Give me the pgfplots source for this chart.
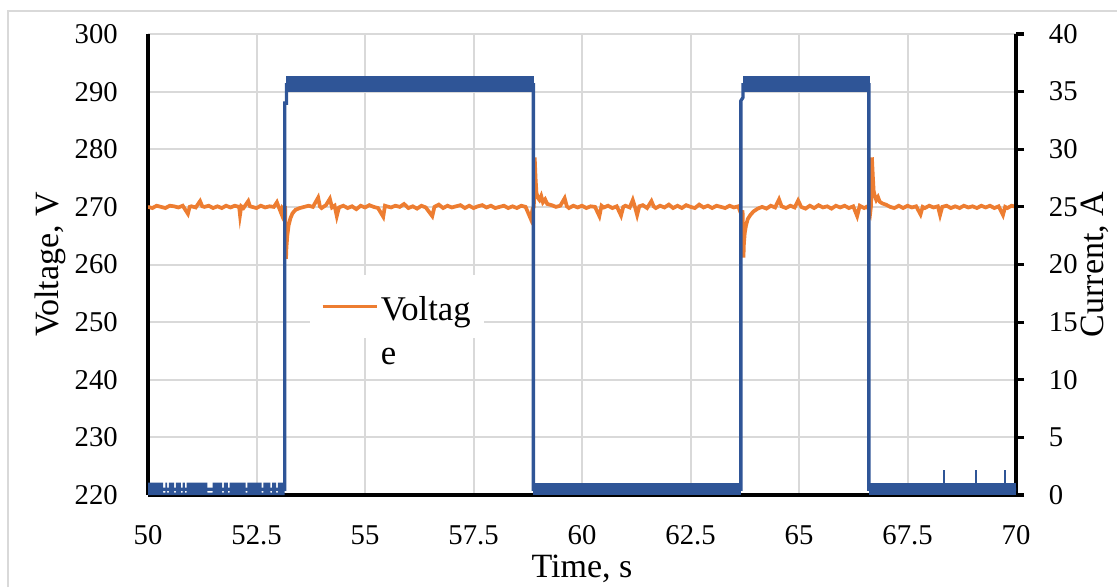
\documentclass[border=0pt]{standalone}
\usepackage{fontspec}
\setmainfont{Liberation Serif}
\usepackage{pgfplots}
\pgfplotsset{compat=1.18}
\definecolor{vorange}{HTML}{ED7D31}
\definecolor{cblue}{HTML}{2F5597}
\definecolor{gridgray}{HTML}{D9D9D9}

\pgfplotstableread{
t V
50.00 270.0
50.10 269.8
50.20 270.2
50.30 270.0
50.40 269.8
50.50 270.2
50.60 270.1
50.70 269.9
50.80 270.2
50.92 268.8
50.96 270.0
51.00 270.1
51.10 269.9
51.20 271.0
51.25 270.1
51.30 270.0
51.40 270.2
51.50 269.8
51.60 270.1
51.70 269.8
51.80 270.2
51.90 269.9
52.00 270.2
52.10 270.0
52.12 268.6
52.15 270.1
52.20 269.8
52.31 271.0
52.35 270.1
52.40 270.0
52.50 269.8
52.60 270.2
52.70 269.9
52.80 270.1
52.90 270.0
52.97 270.8
53.00 270.2
53.08 268.7
53.10 269.8
53.14 269.5
53.16 269.6
53.18 261.0
53.19 263.0
53.21 265.0
53.24 266.8
53.28 268.0
53.33 268.9
53.40 269.5
53.50 269.8
53.60 270.0
53.70 270.2
53.80 270.0
53.92 271.6
53.96 270.1
54.00 269.8
54.10 270.3
54.19 271.4
54.24 269.9
54.30 270.2
54.35 268.4
54.40 269.9
54.50 270.2
54.60 269.8
54.70 270.1
54.80 269.6
54.90 270.2
55.00 269.9
55.10 270.3
55.20 270.0
55.30 269.8
55.42 268.3
55.46 270.2
55.50 270.1
55.60 269.9
55.70 270.2
55.80 270.0
55.90 270.5
56.00 269.8
56.10 270.1
56.20 269.7
56.30 270.2
56.40 269.9
56.55 268.4
56.60 270.0
56.70 270.4
56.80 269.8
56.90 270.2
57.00 269.9
57.10 270.1
57.20 270.3
57.30 269.8
57.40 270.2
57.50 269.8
57.60 270.1
57.70 270.3
57.80 269.9
57.90 270.2
58.00 269.8
58.10 270.0
58.20 270.2
58.30 269.8
58.40 270.1
58.50 269.8
58.60 270.2
58.70 270.0
58.82 267.9
58.86 269.6
58.89 270.0
58.91 278.6
58.93 275.0
58.95 272.5
58.98 271.6
59.02 271.2
59.06 271.9
59.10 270.8
59.15 271.3
59.20 270.5
59.30 270.3
59.40 270.0
59.50 270.2
59.60 271.5
59.65 270.1
59.70 269.8
59.80 270.2
59.90 269.9
60.00 270.2
60.10 269.8
60.20 270.1
60.30 270.0
60.40 268.4
60.45 270.2
60.50 269.9
60.60 270.2
60.70 269.8
60.80 270.1
60.90 268.5
60.95 270.0
61.00 270.2
61.10 269.9
61.17 271.2
61.22 270.0
61.27 268.6
61.32 270.1
61.40 270.3
61.50 269.8
61.60 271.0
61.65 270.1
61.70 269.8
61.80 270.2
61.90 269.9
62.00 270.4
62.10 269.8
62.20 270.2
62.30 269.8
62.40 270.3
62.50 270.0
62.60 269.8
62.70 270.4
62.80 269.9
62.90 270.2
63.00 269.8
63.10 270.2
63.20 270.0
63.30 269.8
63.40 270.2
63.50 269.9
63.60 270.1
63.68 268.5
63.70 269.4
63.72 261.2
63.73 263.5
63.75 265.5
63.78 266.8
63.82 267.9
63.88 268.6
63.95 269.2
64.05 269.7
64.15 270.0
64.25 269.7
64.35 270.2
64.45 269.9
64.54 271.3
64.60 270.1
64.70 269.8
64.80 270.2
64.90 269.9
64.98 271.1
65.05 270.0
65.15 269.7
65.25 270.2
65.35 269.8
65.45 270.3
65.55 269.9
65.65 270.1
65.75 269.7
65.85 270.2
65.95 269.9
66.05 270.2
66.15 269.8
66.25 270.1
66.34 268.4
66.40 270.2
66.50 269.8
66.58 270.1
66.64 268.9
66.66 270.2
66.68 278.6
66.70 275.5
66.72 272.8
66.75 271.8
66.78 271.2
66.82 271.7
66.86 270.9
66.92 270.6
67.00 270.4
67.10 270.0
67.20 269.8
67.30 270.2
67.40 269.8
67.50 270.2
67.60 269.9
67.70 270.1
67.80 268.7
67.85 270.0
67.90 269.8
68.00 270.2
68.10 269.9
68.20 270.1
68.25 268.6
68.30 270.0
68.40 270.2
68.50 269.8
68.60 270.1
68.70 269.8
68.80 270.2
68.90 269.9
69.00 270.1
69.10 269.8
69.20 270.2
69.30 269.9
69.40 270.2
69.50 269.8
69.60 270.1
69.70 268.6
69.75 270.0
69.80 269.8
69.90 270.2
70.00 270.0
}\voltage

\begin{document}
\begin{tikzpicture}
\useasboundingbox (0pt,0pt) rectangle (837.75pt,440.25pt);
\draw[gridgray, line width=1.5pt] (6pt,0pt) -- (6pt,432pt) -- (837.75pt,432pt);

% voltage, left axis
\begin{axis}[
  at={(111pt,69pt)}, anchor=south west,
  scale only axis, width=651pt, height=345.75pt,
  xmin=50, xmax=70, ymin=220, ymax=300,
  xtick={50,52.5,...,70}, ytick={220,230,...,300},
  axis x line*=bottom, axis y line*=left,
  axis line style={-, black, line width=2.4pt},
  major tick length=0pt,
  grid=major, grid style={gridgray, line width=1.5pt},
  /pgf/number format/assume math mode=true,
  ticklabel style={font=\fontsize{21.5}{25}\selectfont, inner sep=0pt},
  xticklabel style={anchor=north, yshift=-22.5pt},
  yticklabel style={anchor=east, xshift=-22.5pt},
  xlabel={Time, s}, ylabel={Voltage, V},
  label style={font=\fontsize{25.5}{30}\selectfont},
  xlabel style={at={(axis description cs:0.5,-0.178)}, anchor=base},
  ylabel style={at={(axis description cs:-0.113,0.5)}, anchor=center},
  legend style={at={(0.1866,0.477)}, anchor=north west, fill=white, draw=none,
    font=\fontsize{26}{33}\selectfont, inner xsep=8pt, inner ysep=9pt},
  legend cell align=left,
  legend image code/.code={\draw[#1, line width=2.4pt] (0pt,0pt) -- (40.5pt,0pt);},
]
\addplot[vorange, line width=2.8pt] table[x=t, y=V] {\voltage};
\addlegendentry{\begin{tabular}[t]{@{}l@{}}Voltag\\e\end{tabular}}
\end{axis}

% current, right axis
\begin{axis}[
  at={(111pt,69pt)}, anchor=south west,
  scale only axis, width=651pt, height=345.75pt,
  xmin=50, xmax=70, ymin=0, ymax=40,
  ytick={0,5,...,40},
  axis x line=none, axis y line*=right,
  axis line style={-, black, line width=2.4pt},
  tick align=outside, major tick length=6pt,
  tick style={black, line width=2.4pt},
  /pgf/number format/assume math mode=true,
  yticklabel style={font=\fontsize{21.5}{25}\selectfont, inner sep=0pt, anchor=west, xshift=18.5pt},
  ylabel={Current, A},
  ylabel style={font=\fontsize{25.5}{30}\selectfont, at={(axis description cs:1.091,0.5)}, anchor=center},
]
\addplot[cblue, line width=2.5pt] coordinates {(50,0.5)(53.15,0.5)(53.15,34.0)(53.19,34.0)(53.19,35.6)(58.88,35.6)(58.88,0.5)(63.66,0.5)(63.66,34.2)(63.71,34.5)(63.71,35.6)(66.61,35.6)(66.61,0.5)(70,0.5)};
\addplot[fill=cblue, draw=none] coordinates {(53.18,35)(58.90,35)(58.90,36.35)(53.18,36.35)};
\addplot[fill=cblue, draw=none] coordinates {(63.70,35)(66.63,35)(66.63,36.35)(63.70,36.35)};
\addplot[fill=cblue, draw=none] coordinates {(58.88,0)(63.66,0)(63.66,1.07)(58.88,1.07)};
\addplot[fill=cblue, draw=none] coordinates {(66.61,0)(70,0)(70,1.07)(66.61,1.07)};
\addplot[fill=cblue, draw=none] coordinates {(50,0)(50,1.07)
  (50.35,1.07)(50.35,0.2)(50.40,0.2)(50.40,1.07)
  (50.44,1.07)(50.44,0.2)(50.48,0.2)(50.48,1.07)
  (50.60,1.07)(50.60,0.2)(50.64,0.2)(50.64,1.07)
  (50.76,1.07)(50.76,0.2)(50.80,0.2)(50.80,1.07)
  (50.85,1.07)(50.85,0.2)(50.89,0.2)(50.89,1.07)
  (51.37,1.07)(51.37,0.2)(51.49,0.2)(51.49,1.07)
  (51.71,1.07)(51.71,0.2)(51.75,0.2)(51.75,1.07)
  (51.84,1.07)(51.84,0.2)(51.88,0.2)(51.88,1.07)
  (52.25,1.07)(52.25,0.2)(52.29,0.2)(52.29,1.07)
  (52.62,1.07)(52.62,0.2)(52.66,0.2)(52.66,1.07)
  (52.82,1.07)(52.82,0.2)(52.86,0.2)(52.86,1.07)
  (52.95,1.07)(52.95,0.2)(52.99,0.2)(52.99,1.07)
  (53.15,1.07)(53.15,0)};
\addplot[ycomb, cblue, line width=2pt] coordinates {(68.34,2.2)(69.08,2.2)(69.75,2.2)};
\end{axis}
\end{tikzpicture}
\end{document}
